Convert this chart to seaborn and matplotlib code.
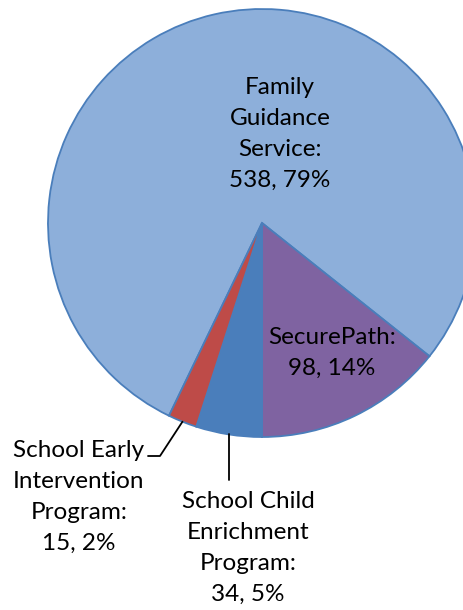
import matplotlib
matplotlib.use("Agg")
import numpy as np
import matplotlib.pyplot as plt
import seaborn as sns

# ---- data ----
categories = ["Family Guidance Service", "SecurePath",
              "School Child Enrichment Program", "School Early Intervention Program"]
values = [538, 98, 34, 15]
label_heads = ["Family\nGuidance\nService:", "SecurePath:",
               "School Child\nEnrichment\nProgram:", "School Early\nIntervention\nProgram:"]
colors = ["#8DAFDA", "#7F63A1", "#4A7EBB", "#BE4B48"]

sns.set_theme(style="white")
plt.rcParams['font.family'] = ['Lato', 'DejaVu Sans']

W, H = 464, 610
fig = plt.figure(figsize=(W / 100, H / 100), dpi=100)
ax = fig.add_axes([0, 0, 1, 1])

def py(y):  # top-origin pixel -> data y
    return H - y

cx, cy, R = 262, py(223), 214
total = sum(values)
wedges, _ = ax.pie(values, colors=colors, center=(cx, cy), radius=R,
                   counterclock=False, startangle=244.24, frame=True,
                   wedgeprops=dict(edgecolor="#4A7EBB", linewidth=1.3))
ax.set_xlim(0, W)
ax.set_ylim(0, H)
ax.set_aspect('equal')
ax.axis('off')

texts = [f"{h}\n{v}, {round(v / total * 100)}%" for h, v in zip(label_heads, values)]
pos = [(280, 134), (332, 353), (248, 548), (79, 497)]
fs = 17.5
ls = 1.57
for t, (x, y) in zip(texts, pos):
    ax.text(x, py(y), t, ha='center', va='center', fontsize=fs,
            linespacing=ls, color='black', multialignment='center')

def rim(w):
    mid = np.deg2rad((w.theta1 + w.theta2) / 2)
    return cx + R * np.cos(mid), cy + R * np.sin(mid)

# leader for School Early Intervention
ex, ey = rim(wedges[3])
ax.plot([148, 160, ex], [py(456), py(456), ey], color='black', lw=1.3)
# leader for School Child Enrichment
chx, chy = rim(wedges[2])
ax.plot([chx, chx], [chy, py(480)], color='black', lw=1.3)

fig.savefig("out.png", dpi=100)
